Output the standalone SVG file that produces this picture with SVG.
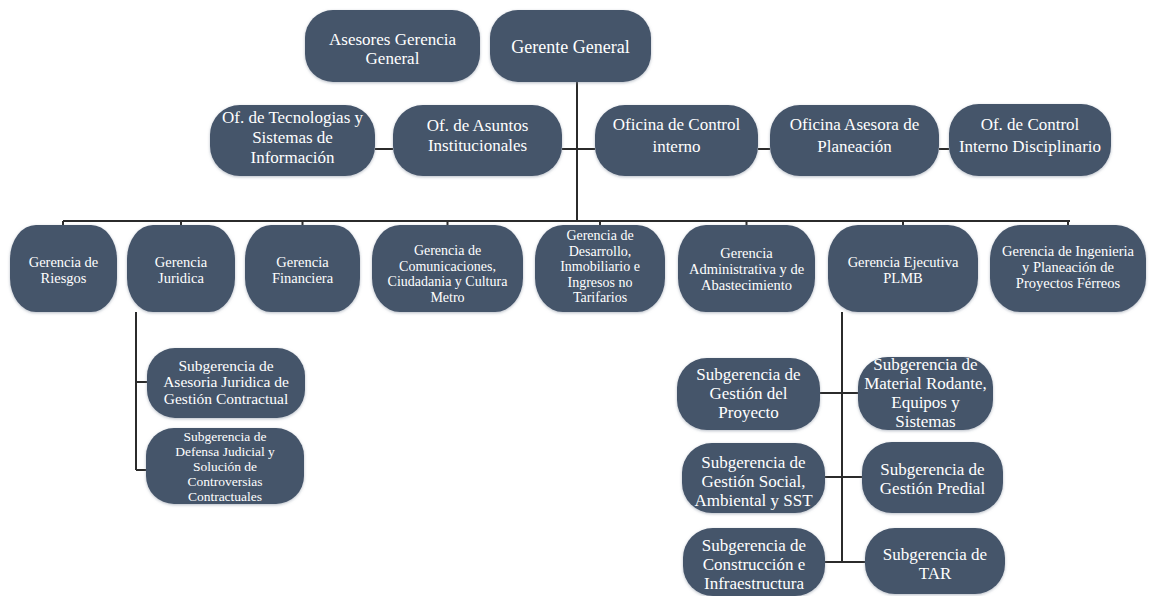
<svg xmlns="http://www.w3.org/2000/svg" width="1152" height="596" viewBox="0 0 1152 596">
<defs>
<filter id="sh" x="-10%" y="-10%" width="120%" height="120%">
<feDropShadow dx="0" dy="1" stdDeviation="1.5" flood-color="#7a8596" flood-opacity="0.55"/>
</filter>
<style>
.n{fill:#44546A;filter:url(#sh)}
.t{font-family:"Liberation Serif","Times New Roman",serif;fill:#ffffff;text-anchor:middle}
.f18{font-size:18px}.f17{font-size:17px}.f145{font-size:14.5px}.f14{font-size:14px}.f155{font-size:15.5px}.f135{font-size:13.5px}
.c{stroke:#2b2b2b;stroke-width:2;fill:none}
</style>
</defs>
<rect width="1152" height="596" fill="#ffffff"/>

<g id="connectors">
<path class="c" d="M577 82V221M63 221H1070"/>
<path class="c" d="M63 221V225M181 221V225M302.5 221V225M447.5 221V225M600 221V225M746.5 221V225M903 221V225M1068 221V225"/>
<path class="c" d="M375 149H393M562 149H595M758 149H770M939 149H949"/>
<path class="c" d="M136 312V470M136 382H147M136 470H147"/>
<path class="c" d="M842 312V562M820 393H858M825 477H862M825 562H865"/>
</g>

<g id="asesores-gerencia">
<rect class="n" x="305" y="10" width="175" height="72" rx="28"/>
<text class="t f17"><tspan x="392.5" y="45">Asesores Gerencia</tspan><tspan x="392.5" y="64">General</tspan></text>
</g>
<g id="gerente-general">
<rect class="n" x="490" y="10" width="161" height="72" rx="28"/>
<text class="t f18" x="570.5" y="53">Gerente General</text>
</g>

<g id="of-tecnologias">
<rect class="n" x="210" y="105" width="165" height="71" rx="30"/>
<text class="t f17"><tspan x="292.5" y="123">Of. de Tecnologias y</tspan><tspan x="292.5" y="143">Sistemas de</tspan><tspan x="292.5" y="163">Información</tspan></text>
</g>
<g id="of-asuntos">
<rect class="n" x="393" y="105" width="169" height="71" rx="30"/>
<text class="t f17"><tspan x="477.5" y="131">Of. de Asuntos</tspan><tspan x="477.5" y="151">Institucionales</tspan></text>
</g>
<g id="of-control-interno">
<rect class="n" x="595" y="105" width="163" height="71" rx="30"/>
<text class="t f17"><tspan x="676.5" y="130">Oficina de Control</tspan><tspan x="676.5" y="152">interno</tspan></text>
</g>
<g id="of-asesora-planeacion">
<rect class="n" x="770" y="105" width="169" height="71" rx="30"/>
<text class="t f17"><tspan x="854.5" y="130">Oficina Asesora de</tspan><tspan x="854.5" y="152">Planeación</tspan></text>
</g>
<g id="of-control-disciplinario">
<rect class="n" x="949" y="104" width="162" height="72" rx="30"/>
<text class="t f17"><tspan x="1030" y="130">Of. de Control</tspan><tspan x="1030" y="152">Interno Disciplinario</tspan></text>
</g>

<g id="g-riesgos">
<rect class="n" x="10" y="225" width="107" height="87" rx="26" ry="34"/>
<text class="t f145"><tspan x="63.5" y="267">Gerencia de</tspan><tspan x="63.5" y="283">Riesgos</tspan></text>
</g>
<g id="g-juridica">
<rect class="n" x="127" y="225" width="108" height="87" rx="26" ry="34"/>
<text class="t f145"><tspan x="181" y="267">Gerencia</tspan><tspan x="181" y="283">Juridica</tspan></text>
</g>
<g id="g-financiera">
<rect class="n" x="245" y="225" width="115" height="87" rx="26" ry="34"/>
<text class="t f145"><tspan x="302.5" y="267">Gerencia</tspan><tspan x="302.5" y="283">Financiera</tspan></text>
</g>
<g id="g-comunicaciones">
<rect class="n" x="372" y="225" width="151" height="87" rx="28" ry="34"/>
<text class="t f14"><tspan x="447.5" y="255">Gerencia de</tspan><tspan x="447.5" y="270.5">Comunicaciones,</tspan><tspan x="447.5" y="286">Ciudadania y Cultura</tspan><tspan x="447.5" y="301.5">Metro</tspan></text>
</g>
<g id="g-desarrollo">
<rect class="n" x="535" y="225" width="130" height="87" rx="28" ry="34"/>
<text class="t f14"><tspan x="600" y="240">Gerencia de</tspan><tspan x="600" y="255.5">Desarrollo,</tspan><tspan x="600" y="271">Inmobiliario e</tspan><tspan x="600" y="286.5">Ingresos no</tspan><tspan x="600" y="302">Tarifarios</tspan></text>
</g>
<g id="g-administrativa">
<rect class="n" x="678" y="225" width="137" height="87" rx="28" ry="34"/>
<text class="t f145"><tspan x="746.5" y="258">Gerencia</tspan><tspan x="746.5" y="274">Administrativa y de</tspan><tspan x="746.5" y="290">Abastecimiento</tspan></text>
</g>
<g id="g-ejecutiva">
<rect class="n" x="828" y="225" width="150" height="87" rx="30" ry="34"/>
<text class="t f145"><tspan x="903" y="267">Gerencia Ejecutiva</tspan><tspan x="903" y="283">PLMB</tspan></text>
</g>
<g id="g-ingenieria">
<rect class="n" x="990" y="225" width="156" height="87" rx="30" ry="34"/>
<text class="t f145"><tspan x="1068" y="256">Gerencia de Ingenieria</tspan><tspan x="1068" y="272">y Planeación de</tspan><tspan x="1068" y="288">Proyectos Férreos</tspan></text>
</g>

<g id="s-asesoria-juridica">
<rect class="n" x="147" y="348" width="158" height="70" rx="28"/>
<text class="t f155"><tspan x="226" y="370.5">Subgerencia de</tspan><tspan x="226" y="387">Asesoria Juridica de</tspan><tspan x="226" y="403.5">Gestión Contractual</tspan></text>
</g>
<g id="s-defensa-judicial">
<rect class="n" x="146" y="428" width="158" height="76" rx="28"/>
<text class="t f135"><tspan x="225" y="441">Subgerencia de</tspan><tspan x="225" y="456">Defensa Judicial y</tspan><tspan x="225" y="471">Solución de</tspan><tspan x="225" y="486">Controversias</tspan><tspan x="225" y="501">Contractuales</tspan></text>
</g>

<g id="s-gestion-proyecto">
<rect class="n" x="677" y="358" width="143" height="72" rx="30"/>
<text class="t f17"><tspan x="748.5" y="380">Subgerencia de</tspan><tspan x="748.5" y="399">Gestión del</tspan><tspan x="748.5" y="418">Proyecto</tspan></text>
</g>
<g id="s-gestion-social">
<rect class="n" x="682" y="443" width="143" height="70" rx="30"/>
<text class="t f17"><tspan x="753.5" y="468">Subgerencia de</tspan><tspan x="753.5" y="487">Gestión Social,</tspan><tspan x="753.5" y="506">Ambiental y SST</tspan></text>
</g>
<g id="s-construccion">
<rect class="n" x="683" y="528" width="142" height="68" rx="30"/>
<text class="t f17"><tspan x="754" y="551">Subgerencia de</tspan><tspan x="754" y="570">Construcción e</tspan><tspan x="754" y="589">Infraestructura</tspan></text>
</g>
<g id="s-material-rodante">
<rect class="n" x="858" y="357" width="135" height="73" rx="30"/>
<text class="t f17"><tspan x="925.5" y="370">Subgerencia de</tspan><tspan x="925.5" y="389">Material Rodante,</tspan><tspan x="925.5" y="408">Equipos y</tspan><tspan x="925.5" y="427">Sistemas</tspan></text>
</g>
<g id="s-gestion-predial">
<rect class="n" x="862" y="442" width="141" height="71" rx="30"/>
<text class="t f17"><tspan x="932.5" y="475">Subgerencia de</tspan><tspan x="932.5" y="494">Gestión Predial</tspan></text>
</g>
<g id="s-tar">
<rect class="n" x="865" y="528" width="140" height="66" rx="30"/>
<text class="t f17"><tspan x="935" y="560">Subgerencia de</tspan><tspan x="935" y="579">TAR</tspan></text>
</g>
</svg>
